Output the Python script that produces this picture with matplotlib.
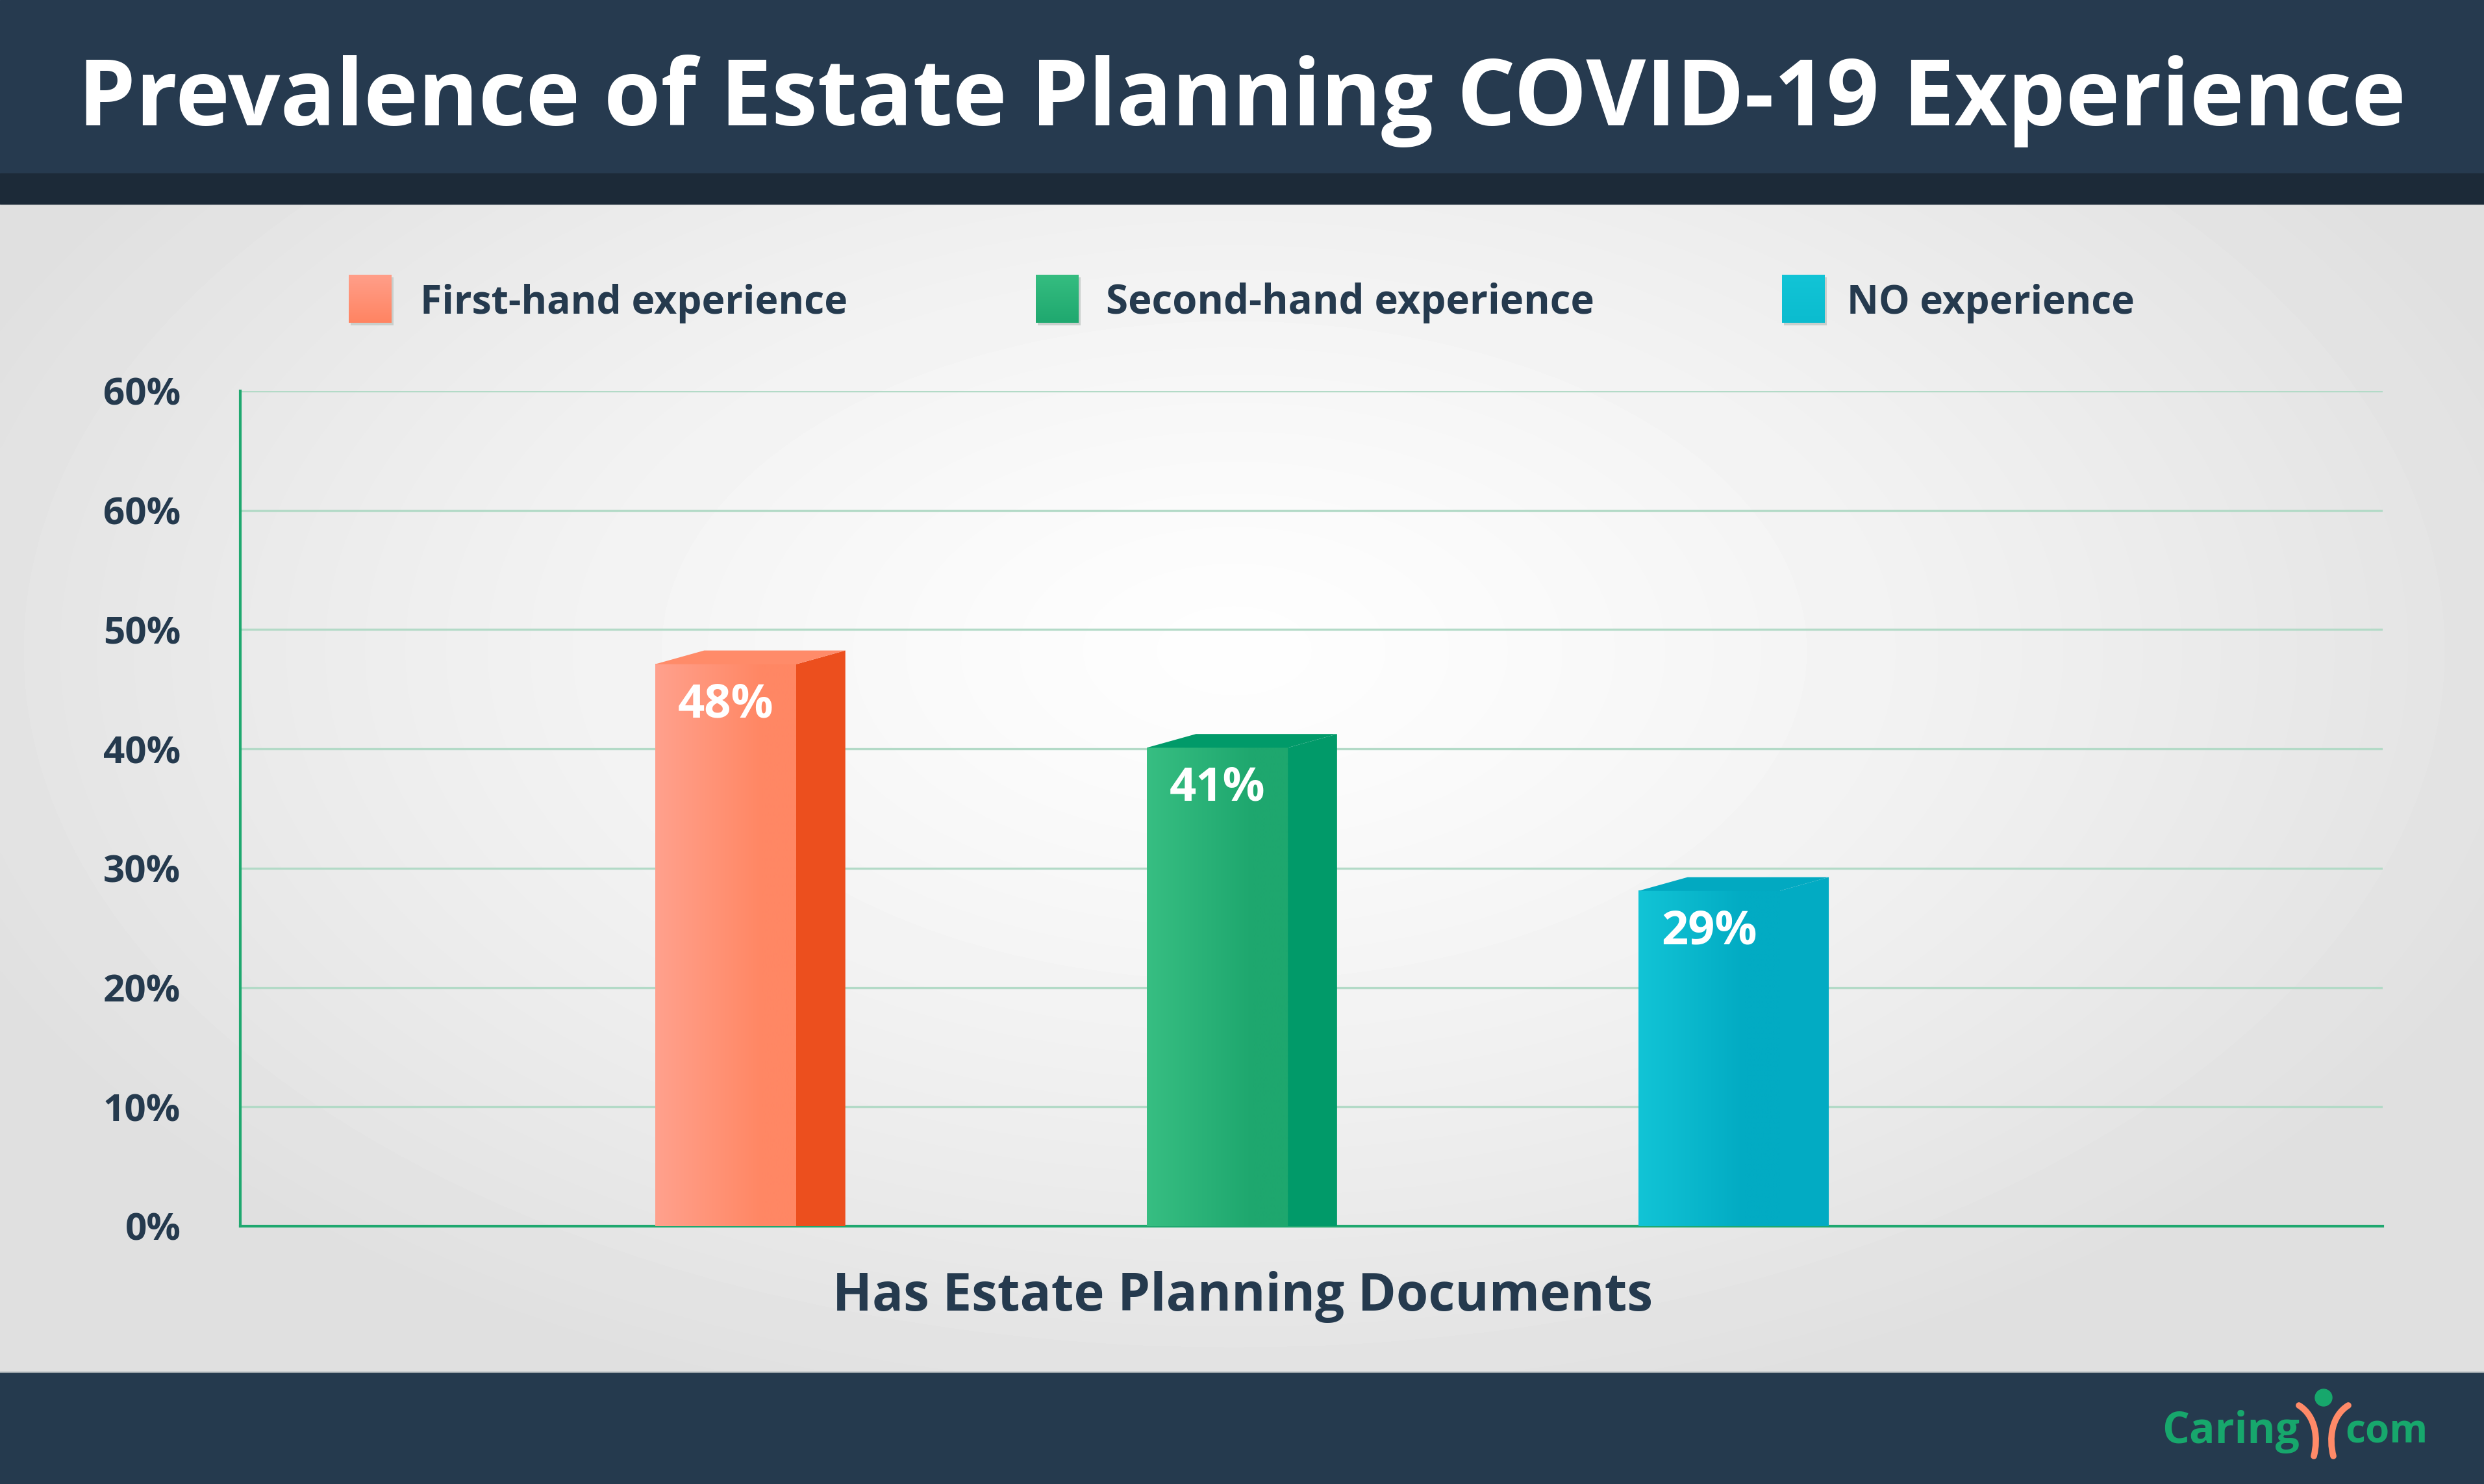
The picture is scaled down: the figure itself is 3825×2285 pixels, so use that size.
import numpy as np
import matplotlib
matplotlib.use('Agg')
import matplotlib.pyplot as plt
from matplotlib.patches import Polygon, Rectangle, Circle, PathPatch
from matplotlib.path import Path
from matplotlib.colors import to_rgb

plt.rcParams['font.family'] = ['Open Sans', 'DejaVu Sans']

W, H = 3825, 2285

# ---------------- data ----------------
title = 'Prevalence of Estate Planning COVID-19 Experience'
categories = ['First-hand experience', 'Second-hand experience', 'NO experience']
values = [48, 41, 29]
value_labels = ['48%', '41%', '29%']
ytick_vals = [0, 10, 20, 30, 40, 50, 60, 70]
ytick_labels = ['0%', '10%', '20%', '30%', '40%', '50%', '60%', '60%']
xlabel = 'Has Estate Planning Documents'

front_left_colors = ['#ffa18d', '#37be82', '#12c4d6']
front_right_colors = ['#ff8764', '#1ea76e', '#02abc3']
side_colors = ['#ec4f1e', '#019a69', '#02abc3']
top_colors = ['#ff8b69', '#019a69', '#02a9c1']
legend_top = ['#ff9e89', '#35bd80', '#12c4d6']
legend_bot = ['#ff8462', '#1fa86f', '#0bbccf']

NAVY = '#263a4f'
TEXT = '#253a4e'

fig = plt.figure(figsize=(W / 100, H / 100), dpi=100)
bg = fig.add_axes([0, 0, 1, 1])
bg.set_xlim(0, W)
bg.set_ylim(H, 0)
bg.axis('off')

# radial gradient background
yy, xx = np.mgrid[313:2113:4, 0:W:4]
r = np.sqrt(((xx - 1900) / 2000.0) ** 2 + ((yy - 1000) / 1150.0) ** 2)
img = np.clip(0.995 - 0.11 * r ** 1.3, 0.875, 1.0)
bg.imshow(img, cmap='gray', vmin=0, vmax=1, extent=(0, W, 2113, 313),
          aspect='auto', interpolation='bilinear', zorder=0)

# header / footer bands
bg.add_patch(Rectangle((0, 0), W, 267, color=NAVY, zorder=1))
bg.add_patch(Rectangle((0, 267), W, 47, color='#1c2a38', zorder=1))
bg.add_patch(Rectangle((0, 2113), W, H - 2113, color='#253a4e', zorder=1))
bg.plot([0, W], [2113, 2113], color='#9aa3a9', lw=1.5, zorder=2)

renderer = fig.canvas.get_renderer()


def fit(t, target):
    w = t.get_window_extent(renderer).width
    t.set_fontsize(t.get_fontsize() * target / w)
    return t


t = bg.text(1912, 193, title, color='white', fontweight='bold', fontsize=100,
            ha='center', va='baseline', zorder=3)
fit(t, 3586)

# legend
sq_x = [537, 1595, 2744]
txt_x = [647, 1703, 2844]
txt_w = [657, 751, 442]
for i, cat in enumerate(categories):
    c0 = np.array(to_rgb(legend_top[i]))
    c1 = np.array(to_rgb(legend_bot[i]))
    g = np.linspace(0, 1, 64)[:, None, None]
    arr = c0 * (1 - g) + c1 * g
    bg.add_patch(Rectangle((sq_x[i] + 3, 427), 66, 74, color='#c9cfcc', zorder=2, lw=0))
    bg.imshow(arr, extent=(sq_x[i], sq_x[i] + 66, 497, 423), aspect='auto', zorder=3)
    t = bg.text(txt_x[i], 483, cat, color=TEXT, fontweight='bold', fontsize=40,
                ha='left', va='baseline', zorder=3)
    fit(t, txt_w[i])

# x label
t = bg.text(1914, 2018, xlabel, color=TEXT, fontweight='bold', fontsize=40,
            ha='center', va='baseline', zorder=3)
fit(t, 1261)

# logo
t = bg.text(3329, 2222, 'Caring', color='#17a76c', fontweight='bold', fontsize=40,
            ha='left', va='baseline', zorder=3)
fit(t, 212)
t = bg.text(3611, 2222, 'com', color='#17a76c', fontweight='bold', fontsize=40,
            ha='left', va='baseline', zorder=3)
fit(t, 127)
bg.add_patch(Circle((3578, 2152), 13, color='#17a76c', zorder=3))
for sgn in (-1, 1):
    cx = 3578
    verts = [(cx + sgn * 38, 2164), (cx + sgn * 12, 2180),
             (cx + sgn * 8, 2215), (cx + sgn * 15, 2242)]
    p = Path(verts, [Path.MOVETO, Path.CURVE4, Path.CURVE4, Path.CURVE4])
    bg.add_patch(PathPatch(p, fc='none', ec='#ff8a68', lw=7, capstyle='round', zorder=3))

# ---------------- main axes ----------------
ax = fig.add_axes([370 / W, 1 - 1888 / H, (3669 - 370) / W, (1888 - 602) / H])
ax.patch.set_alpha(0)
ax.set_axisbelow(True)

bw = 0.287
dx = 0.10
dy = 1.15
for i, v in enumerate(values):
    x0, x1 = i - bw / 2, i + bw / 2
    h = v - 0.9
    c0 = np.array(to_rgb(front_left_colors[i]))
    c1 = np.array(to_rgb(front_right_colors[i]))
    g = np.clip(np.linspace(0, 1, 128) / 0.75, 0, 1)[None, :, None]
    arr = c0 * (1 - g) + c1 * g
    ax.imshow(arr, extent=(x0, x1, 0, h), aspect='auto', zorder=3, interpolation='bilinear')
    ax.add_patch(Polygon([(x1, 0), (x1 + dx, 0), (x1 + dx, h + dy), (x1, h)],
                         closed=True, fc=side_colors[i], ec='none', zorder=3))
    ax.add_patch(Polygon([(x0, h), (x1, h), (x1 + dx, h + dy), (x0 + dx, h + dy)],
                         closed=True, fc=top_colors[i], ec='none', zorder=3))
    ax.text(i, v - 4.3, value_labels[i], color='white', fontweight='bold', fontsize=52,
            ha='center', va='center', zorder=4)

ax.set_xlim(-0.987, 3.37)
ax.set_ylim(0, 70)
ax.set_xticks([])
ax.set_yticks(ytick_vals)
ax.set_yticklabels(ytick_labels, fontsize=42, fontweight='bold', color=TEXT)
ax.tick_params(axis='y', length=0, pad=66)
ax.yaxis.grid(True, color='#b3dac7', linewidth=2.4)
for s in ('top', 'right'):
    ax.spines[s].set_visible(False)
for s in ('left', 'bottom'):
    ax.spines[s].set_color('#1fa86f')
    ax.spines[s].set_linewidth(3)

fig.savefig('out.png', dpi=100)
